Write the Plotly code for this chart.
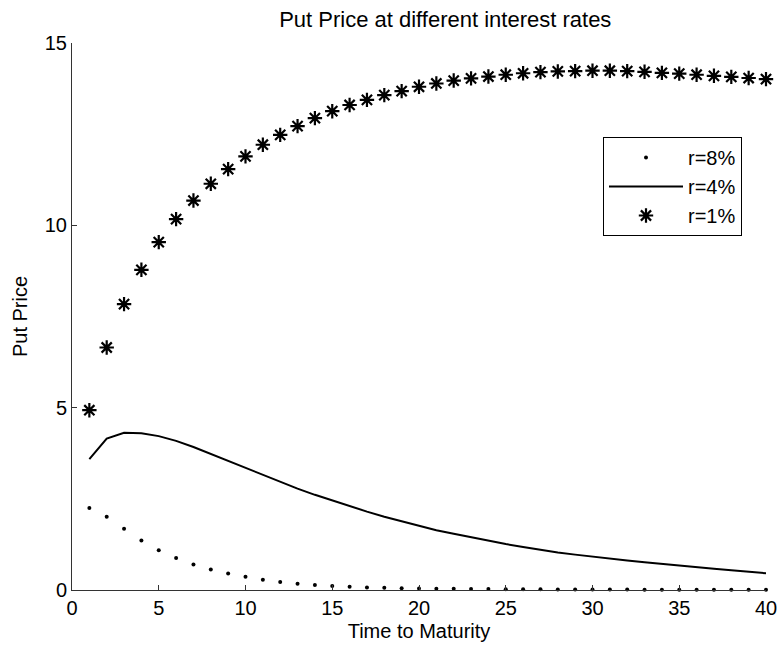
import plotly.graph_objects as go

maturity = list(range(1, 41))

put_r8 = [2.25, 2.01, 1.68, 1.36, 1.09, 0.88, 0.70, 0.56, 0.45, 0.36,
          0.28, 0.22, 0.17, 0.14, 0.11, 0.09, 0.07, 0.06, 0.05, 0.04,
          0.035, 0.031, 0.028, 0.025, 0.022, 0.020, 0.018, 0.016, 0.014, 0.013,
          0.012, 0.011, 0.010, 0.009, 0.008, 0.007, 0.007, 0.006, 0.006, 0.005]

put_r4 = [3.59, 4.15, 4.31, 4.30, 4.22, 4.09, 3.92, 3.73, 3.53, 3.33,
          3.14, 2.95, 2.78, 2.61, 2.45, 2.29, 2.15, 2.01, 1.88, 1.76,
          1.64, 1.54, 1.44, 1.35, 1.26, 1.18, 1.10, 1.03, 0.97, 0.91,
          0.86, 0.81, 0.76, 0.71, 0.67, 0.62, 0.58, 0.54, 0.50, 0.46]

put_r1 = [4.93, 6.65, 7.84, 8.78, 9.54, 10.17, 10.68, 11.14, 11.54, 11.89,
          12.21, 12.48, 12.72, 12.94, 13.13, 13.30, 13.44, 13.57, 13.68, 13.80,
          13.89, 13.97, 14.03, 14.08, 14.13, 14.17, 14.20, 14.22, 14.23, 14.24,
          14.24, 14.23, 14.21, 14.18, 14.16, 14.13, 14.10, 14.07, 14.04, 14.01]

series_names = ["r=8%", "r=4%", "r=1%"]
x_ticks = [0, 5, 10, 15, 20, 25, 30, 35, 40]
y_ticks = [0, 5, 10, 15]

FONT = "Liberation Sans, Arial, Helvetica, sans-serif"
FS = 20
W, H = 779, 650

fig = go.Figure()
fig.add_trace(go.Scatter(
    x=maturity, y=put_r8, mode="markers", name=series_names[0],
    marker=dict(symbol="circle", size=4, color="black"),
    cliponaxis=False,
))
fig.add_trace(go.Scatter(
    x=maturity, y=put_r4, mode="lines", name=series_names[1],
    line=dict(color="black", width=2),
    cliponaxis=False,
))
fig.add_trace(go.Scatter(
    x=maturity, y=put_r1, mode="markers", name=series_names[2],
    marker=dict(symbol="asterisk-open", size=12, color="black",
                line=dict(color="black", width=2.2)),
    cliponaxis=False,
))

axis_common = dict(
    showline=True, linecolor="#333333", linewidth=1,
    ticks="inside", ticklen=5, tickcolor="#333333", tickwidth=1,
    showgrid=False, zeroline=False, mirror=False, automargin=False,
    tickfont=dict(family=FONT, size=FS, color="black"),
)

fig.update_layout(
    width=W, height=H,
    paper_bgcolor="white", plot_bgcolor="white",
    margin=dict(l=72, r=13, t=43, b=60),
    font=dict(family=FONT, size=FS, color="black"),
    title=dict(text="Put Price at different interest rates",
               x=(72 + 347) / W, xref="paper", xanchor="center",
               y=1 - 19 / H, yanchor="middle", automargin=False,
               font=dict(family=FONT, size=22, color="black")),
    xaxis=dict(range=[0, 40], tickvals=x_ticks,
               title=dict(text="Time to Maturity", standoff=5,
                          font=dict(family=FONT, size=FS, color="black")),
               **axis_common),
    yaxis=dict(range=[0, 15], tickvals=y_ticks,
               title=dict(text="Put Price", standoff=11,
                          font=dict(family=FONT, size=FS, color="black")),
               **axis_common),
    showlegend=True,
    legend=dict(
        x=(603 - 72) / 694, y=(590 - 137) / 547, xanchor="left", yanchor="top",
        bgcolor="white", bordercolor="black", borderwidth=1,
        font=dict(family=FONT, size=FS, color="black"),
        itemwidth=74,
        traceorder="normal",
    ),
)

fig.write_html(
    "out.html",
    config={"displayModeBar": False},
    post_script="document.body.style.margin='0';document.body.style.overflow='hidden';",
)
